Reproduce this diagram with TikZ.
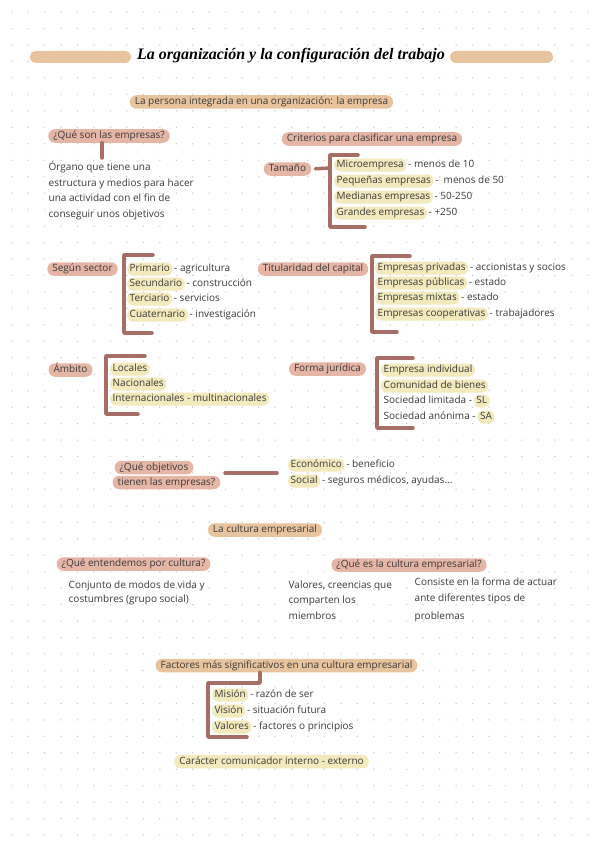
\documentclass[tikz,border=0pt]{standalone}
\usepackage{fontspec}
\setmainfont{Open Sans}
\newfontfamily\titlefont{Liberation Serif}
\definecolor{pinkc}{RGB}{229,181,166}
\definecolor{tanc}{RGB}{232,196,158}
\definecolor{hlc}{RGB}{242,233,188}
\definecolor{brkc}{RGB}{166,110,102}
\definecolor{txtc}{RGB}{58,58,58}
\definecolor{dotc}{RGB}{200,200,200}
\begin{document}
\begin{tikzpicture}[x=1pt,y=-1pt,
  base/.style={font=\fontsize{10}{12}\selectfont, text=txtc, inner sep=0pt, text height=7.5pt, text depth=2pt},
  pbox/.style={base, fill=pinkc, rounded corners=6.5pt, minimum height=13.5pt, inner xsep=5pt},
  tbox/.style={pbox, fill=tanc},
  ybox/.style={pbox, fill=hlc},
  hl/.style={base, fill=hlc, rounded corners=6pt, minimum height=13pt, inner xsep=2.5pt, anchor=west},
  plain/.style={base, anchor=west, inner xsep=1.5pt},
  brk/.style={draw=brkc, line width=3.5pt, line cap=round, line join=round}]
\useasboundingbox (0,0) rectangle (599,848);
\fill[white] (0,0) rectangle (599,848);
% dotted grid
\foreach \i in {0,...,36}{\foreach \j in {0,...,51}{\fill[dotc] (11.7+16.46*\i,12.1+16.46*\j) circle (0.75pt);}}

% title
\fill[tanc, rounded corners=6pt] (30,51) rectangle (131,63);
\fill[tanc, rounded corners=6pt] (450,51) rectangle (553,63);
\node[font=\titlefont\bfseries\itshape\fontsize{16}{18}\selectfont, text=black, inner sep=0pt] (title) at (291,56) {La organización y la configuración del trabajo};

\node[tbox] (persona) at (261.5,102) {La persona integrada en una organización: la empresa};

% que son
\node[pbox] (q1) at (109,136) {¿Qué son las empresas?};
\coordinate (q1b) at (102,158);
\draw[brk] (q1.south -| q1b) -- (q1b);
\node[plain] (d1) at (47,168) {Órgano que tiene una};
\node[plain] (d2) at (47,184) {estructura y medios para hacer};
\node[plain] (d3) at (47,199) {una actividad con el fin de};
\node[plain] (d4) at (47,215) {conseguir unos objetivos};

% criterios
\node[pbox] (crit) at (372,139) {Criterios para clasificar una empresa};
\node[pbox] (tam) at (287.5,169) {Tamaño};
\coordinate (b1m) at (330,168);
\draw[brk, shorten <=4pt] (tam.east) -- (b1m);
\draw[brk] (358,155) -- (330,155) -- (330,227) -- (365,227);
\foreach \a/\b/\y [count=\k] in {Microempresa/- menos de 10/165, Pequeñas empresas/- \ menos de 50/181, Medianas empresas/- 50-250/197, Grandes empresas/- +250/213}
{\node[hl] (ta\k) at (334,\y) {\a}; \node[plain] (tb\k) at (ta\k.east) {\b};}

% sector
\node[pbox] (sec) at (82.5,269) {Según sector};
\draw[brk] (153,255) -- (124,255) -- (124,333) -- (152,333);
\foreach \a/\b/\y [count=\k] in {Primario/- agricultura/269, Secundario/- construcción/284, Terciario/- servicios/299, Cuaternario/- investigación/315}
{\node[hl] (sa\k) at (127,\y) {\a}; \node[plain] (sb\k) at (sa\k.east) {\b};}

% titularidad
\node[pbox] (tit) at (313,269) {Titularidad del capital};
\draw[brk] (410,256) -- (372,256) -- (372,332) -- (397,332);
\foreach \a/\b/\y [count=\k] in {Empresas privadas/- accionistas y socios/268, Empresas públicas/- estado/283, Empresas mixtas/- estado/298, Empresas cooperativas/- trabajadores/314}
{\node[hl] (ca\k) at (375,\y) {\a}; \node[plain] (cb\k) at (ca\k.east) {\b};}

% ambito
\node[pbox] (amb) at (70.5,370) {Ámbito};
\draw[brk] (145,356) -- (106,356) -- (106,414) -- (138,414);
\node[hl] (am1) at (110,369) {Locales};
\node[hl] (am2) at (110,384) {Nacionales};
\node[hl] (am3) at (110,399) {Internacionales - multinacionales};

% forma juridica
\node[pbox] (for) at (327.5,369) {Forma jurídica};
\draw[brk] (413,358) -- (377,358) -- (377,428) -- (413,428);
\node[hl] (fj1) at (381,370) {Empresa individual};
\node[hl] (fj2) at (381,386) {Comunidad de bienes};
\node[plain] (fj3) at (382,401) {Sociedad limitada -};
\node[hl, anchor=west] (fj3b) at (fj3.east) {SL};
\node[plain] (fj4) at (382,417) {Sociedad anónima -};
\node[hl, anchor=west] (fj4b) at (fj4.east) {SA};

% objetivos
\node[pbox] (ob1) at (154,467.5) {¿Qué objetivos};
\node[pbox] (ob2) at (166.5,482.5) {tienen las empresas?};
\coordinate (o1) at (225,473);
\coordinate (o2) at (277,473);
\draw[brk] (o1) -- (o2);
\node[hl] (oa1) at (288,465) {Económico};
\node[plain] (ob1t) at (oa1.east) {- beneficio};
\node[hl] (oa2) at (288,481) {Social};
\node[plain] (ob2t) at (oa2.east) {- seguros médicos, ayudas...};

% cultura
\node[tbox] (cult) at (265,530) {La cultura empresarial};
\node[pbox] (qc1) at (133.5,564) {¿Qué entendemos por cultura?};
\node[pbox] (qc2) at (409,565) {¿Qué es la cultura empresarial?};
\node[plain] (c1a) at (67,586) {Conjunto de modos de vida y};
\node[plain] (c1b) at (67,600) {costumbres (grupo social)};
\node[plain] (c2a) at (287,586) {Valores, creencias que};
\node[plain] (c2b) at (287,601) {comparten los};
\node[plain] (c2c) at (287,617) {miembros};
\node[plain] (c3a) at (413,583) {Consiste en la forma de actuar};
\node[plain] (c3b) at (413,599) {ante diferentes tipos de};
\node[plain] (c3c) at (413,617) {problemas};

% factores
\node[tbox] (fac) at (286.5,665.5) {Factores más significativos en una cultura empresarial};
\coordinate (f1) at (260,683);
\coordinate (f2) at (208,683);
\coordinate (f3) at (208,737);
\coordinate (f4) at (247,737);
\draw[brk] (fac.south -| f1) -- (f1) -- (f2) -- (f3) -- (f4);
\foreach \a/\b/\y [count=\k] in {Misión/- razón de ser/695, Visión/- situación futura/711, Valores/- factores o principios/727}
{\node[hl] (ma\k) at (212,\y) {\a}; \node[plain] (mb\k) at (ma\k.east) {\b};}

\node[ybox] (car) at (271.5,761.5) {Carácter comunicador interno - externo};
\end{tikzpicture}
\end{document}
